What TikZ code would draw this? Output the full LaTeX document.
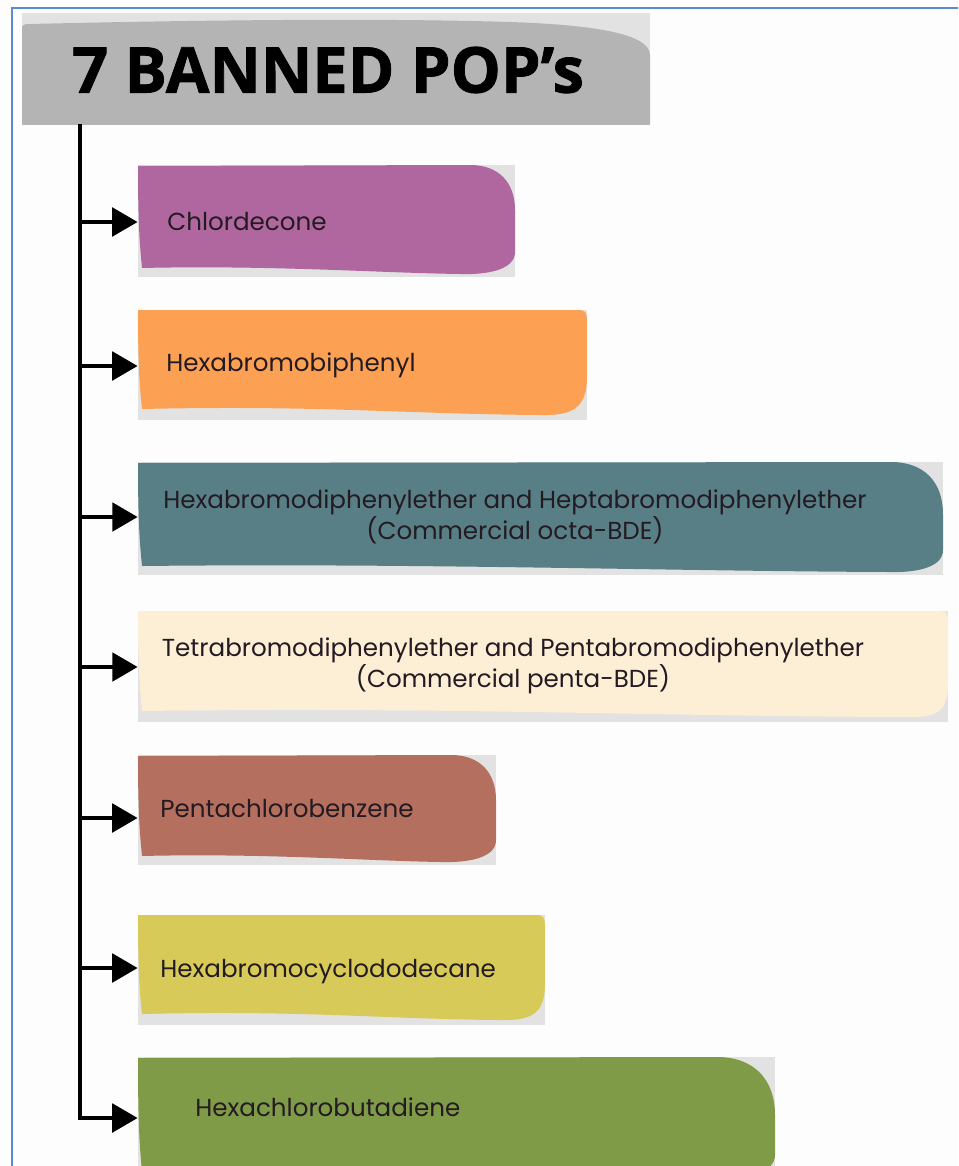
\documentclass[tikz,border=0pt]{standalone}
\usepackage{fontspec}
\setmainfont{Poppins}
\newfontfamily\titlefont[BoldFeatures={FakeBold=1.2}]{Open Sans}
\usetikzlibrary{arrows.meta}

\definecolor{pagewhite}{HTML}{FDFDFD}
\definecolor{frameblue}{HTML}{5B8BD0}
\definecolor{shadowgray}{HTML}{E2E2E2}
\definecolor{titlegray}{HTML}{B4B4B4}
\definecolor{inkdark}{HTML}{231A22}
\definecolor{cPurple}{HTML}{B0679F}
\definecolor{cOrange}{HTML}{FCA153}
\definecolor{cTeal}{HTML}{587F85}
\definecolor{cCream}{HTML}{FDEED6}
\definecolor{cBrown}{HTML}{B56F5E}
\definecolor{cYellow}{HTML}{D8CA58}
\definecolor{cGreen}{HTML}{809B48}

% box with a large rounded top-right corner: x0 y0 x1 y1 radius colour
\newcommand\popblobtop[6]{%
  \fill[shadowgray] (#1,#2) rectangle (#3,#4);
  \fill[#6] (#1,{#2+1}) -- ({#3-#5},#2)
    .. controls ({#3-0.35*#5},#2) and (#3,{#2+0.4*#5}) .. (#3,{#2+#5})
    -- (#3,{#4-25})
    .. controls (#3,{#4-10}) and ({#3-20},{#4-2}) .. ({#3-55},{#4-3})
    .. controls ({#1+0.65*(#3-#1)},{#4-4}) and ({#1+0.35*(#3-#1)},{#4-12}) .. ({#1+4},{#4-9})
    .. controls ({#1+2},{#4-30}) and (#1,{#4-50}) .. (#1,{#2+1}) -- cycle;}
% box with a rounded bottom-right corner: x0 y0 x1 y1 radius colour
\newcommand\popblobbottom[6]{%
  \fill[shadowgray] (#1,#2) rectangle (#3,#4);
  \fill[#6] (#1,#2) -- ({#3-8},#2)
    .. controls ({#3-2},#2) and (#3,{#2+3}) .. (#3,{#2+10})
    -- (#3,{#4-#5-5})
    .. controls (#3,{#4-0.3*#5}) and ({#3-0.4*#5},{#4-4}) .. ({#3-#5-10},{#4-5})
    .. controls ({#1+0.6*(#3-#1)},{#4-6}) and ({#1+0.4*(#3-#1)},{#4-15}) .. ({#1+4},{#4-11})
    .. controls ({#1+2},{#4-30}) and (#1,{#4-50}) .. (#1,#2) -- cycle;}

\tikzset{
  anchorbox/.style={minimum width=#1, minimum height=2.2cm, inner sep=0pt},
  poplabel/.style={text=inkdark, inner sep=0pt, font=\fontsize{14}{16}\selectfont},
  trunk/.style={line width=2.8pt, draw=black},
  feed/.style={trunk, -{Triangle[length=14.5pt, width=16pt]}}
}

\begin{document}
\begin{tikzpicture}[x=0.02cm, y=-0.02cm]
\useasboundingbox (0,0) rectangle (958,1166);
\clip (0,0) rectangle (958,1166);
\fill[pagewhite] (0,0) rectangle (958,1166);

% window frame
\draw[frameblue, line width=1.3pt] (12,1170) -- (12,8) -- (962,8);

% title banner
\fill[shadowgray] (22,13) rectangle (650,125);
\fill[titlegray] (22,28) .. controls (22,25) and (24,24) .. (30,24)
  .. controls (200,20) and (380,18) .. (510,22)
  .. controls (600,25) and (650,35) .. (650,55) -- (650,125) -- (22,125) -- cycle;
\node[inner sep=0pt, minimum width=12.56cm, minimum height=2.24cm] (title) at (336,69) {};
\node[font=\titlefont\bfseries\fontsize{36}{40}\selectfont, inner sep=0pt] (titletext) at (328,70) {7 BANNED POP’s};

% coloured boxes
\popblobtop{138}{165}{515}{277}{45}{cPurple}
\popblobbottom{138}{310}{587}{420}{38}{cOrange}
\popblobtop{138}{462}{943}{575}{52}{cTeal}
\popblobbottom{138}{611}{948}{722}{32}{cCream}
\popblobtop{138}{755}{496}{865}{45}{cBrown}
\popblobbottom{138}{915}{545}{1025}{36}{cYellow}
\popblobtop{138}{1057}{775}{1180}{58}{cGreen}

% anchor nodes of the boxes
\node[anchorbox=7.54cm]  (b1) at (326.5,222) {};
\node[anchorbox=8.98cm]  (b2) at (362.5,366) {};
\node[anchorbox=16.1cm]  (b3) at (540.5,517) {};
\node[anchorbox=16.2cm]  (b4) at (543,667) {};
\node[anchorbox=7.16cm]  (b5) at (317,818) {};
\node[anchorbox=8.14cm]  (b6) at (341.5,968) {};
\node[anchorbox=12.74cm] (b7) at (456.5,1118) {};

% labels
\node[poplabel, anchor=west] (t1) at (167,222) {Chlordecone};
\node[poplabel, anchor=west] (t2) at (166,365) {Hexabromobiphenyl};
\node[poplabel, align=center] (t3) at (515,517) {Hexabromodiphenylether and Heptabromodiphenylether\\(Commercial octa-BDE)};
\node[poplabel, align=center] (t4) at (513,666) {Tetrabromodiphenylether and Pentabromodiphenylether\\(Commercial penta-BDE)};
\node[poplabel, anchor=west] (t5) at (160,808) {Pentachlorobenzene};
\node[poplabel, anchor=west] (t6) at (160,972) {Hexabromocyclododecane};
\node[poplabel, anchor=west] (t7) at (195,1107) {Hexachlorobutadiene};

% trunk and arrows
\coordinate (root) at (80,124);
\draw[feed] (root) |- (b7.west);
\foreach \b in {b1,b2,b3,b4,b5,b6}
  \draw[feed] (root |- \b.west) -- (\b.west);
\end{tikzpicture}
\end{document}
